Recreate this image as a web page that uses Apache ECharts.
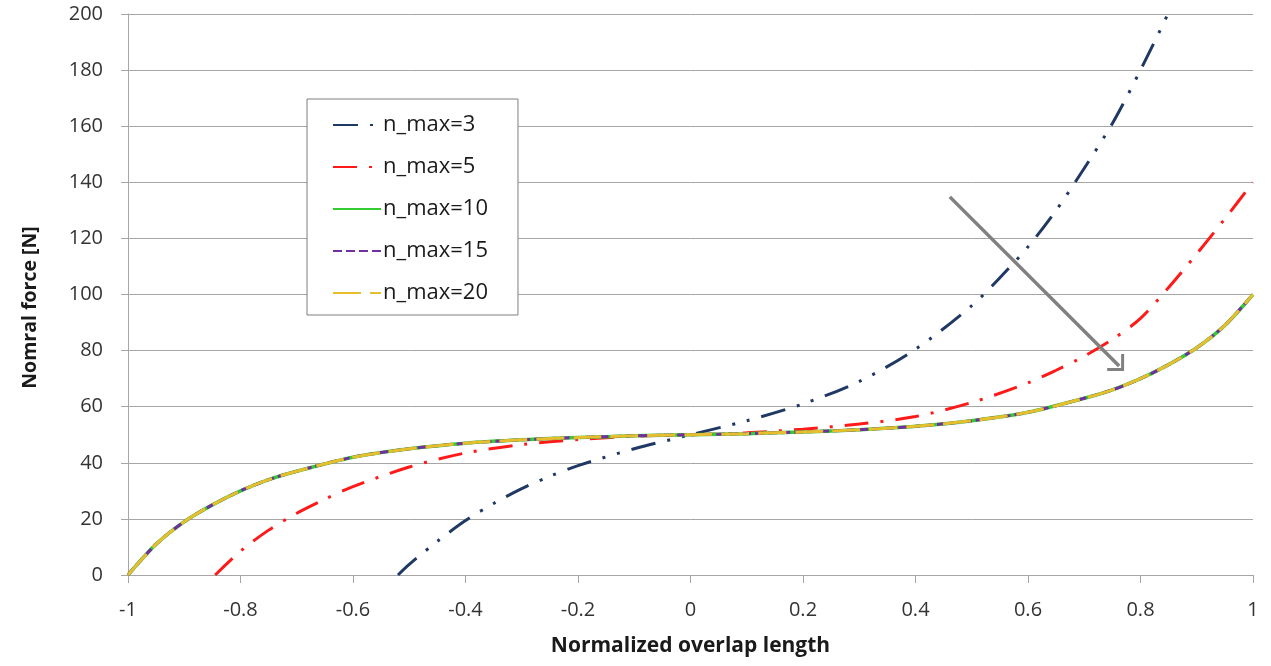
<!DOCTYPE html>
<html>
<head>
<meta charset="utf-8">
<script src="https://cdn.jsdelivr.net/npm/echarts@6/dist/echarts.min.js"></script>
<style>
html,body{margin:0;padding:0;background:#fff;}
#chart{width:1271px;height:666px;}
</style>
</head>
<body>
<div id="chart"></div>
<script>
// ---- data ----
const xTitle = 'Normalized overlap length';
const yTitle = 'Nomral force [N]';
const seriesNames = ['n_max=3', 'n_max=5', 'n_max=10', 'n_max=15', 'n_max=20'];

const x3 = [-0.52, -0.5, -0.45, -0.4, -0.35, -0.3, -0.25, -0.2, -0.1, 0, 0.1, 0.2, 0.3, 0.4, 0.5, 0.55, 0.6, 0.65, 0.7, 0.75, 0.8, 0.85, 0.87];
const y3 = [0, 3.8, 12, 19.4, 25.5, 30.8, 35.2, 39, 45, 50, 55, 61, 69, 80.5, 96, 106, 117, 130, 145, 161, 180, 200.5, 209];

const x5 = [-0.845, -0.8, -0.75, -0.7, -0.65, -0.6, -0.5, -0.4, -0.3, -0.2, -0.1, 0, 0.1, 0.2, 0.3, 0.4, 0.5, 0.6, 0.65, 0.7, 0.75, 0.8, 0.85, 0.9, 0.95, 1];
const y5 = [0, 8.5, 16, 22, 27, 31.5, 38.5, 43.5, 46.5, 48.3, 49.5, 50, 50.7, 52, 53.8, 56.5, 61.5, 68.5, 73, 78, 84, 91.5, 102.5, 114.5, 127, 140];

const xHi = [-1, -0.95, -0.9, -0.85, -0.8, -0.75, -0.7, -0.6, -0.5, -0.4, -0.3, -0.2, -0.1, 0, 0.1, 0.2, 0.3, 0.4, 0.5, 0.6, 0.7, 0.75, 0.8, 0.85, 0.9, 0.95, 1];
const y10 = [0, 11, 19, 25, 30, 34, 37, 42, 45, 47, 48.2, 49, 49.6, 50, 50.4, 51, 51.8, 53, 55, 58, 63, 66, 70, 75, 81, 89, 100];
const y15 = [0, 11, 19, 25, 30, 34, 37, 42, 45, 47, 48.2, 49, 49.6, 50, 50.4, 51, 51.8, 53, 55, 58, 63, 66, 70, 75, 81, 89, 100];
const y20 = [0, 11, 19, 25, 30, 34, 37, 42, 45, 47, 48.2, 49, 49.6, 50, 50.4, 51, 51.8, 53, 55, 58, 63, 66, 70, 75, 81, 89, 100];

// annotation arrow (data coordinates)
const arrowFrom = [0.461, 134.8];
const arrowTo = [0.762, 74.5];

function pairs(xs, ys) { return xs.map((x, i) => [x, ys[i]]); }

const FONT = 'Open Sans';
const chart = echarts.init(document.getElementById('chart'), null, {renderer: 'canvas'});

const chevron = 'path://M12,0 L24,12 L21.88,14.12 L12,4.24 L2.12,14.12 L0,12 Z';

chart.setOption({
  animation: false,
  backgroundColor: '#ffffff',
  grid: {left: 128, right: 18, top: 14, bottom: 91, containLabel: false},
  legend: {
    orient: 'vertical',
    left: 307,
    top: 99,
    padding: [15, 30, 11, 25],
    itemWidth: 48,
    itemHeight: 14,
    itemGap: 20,
    borderColor: '#7f7f7f',
    borderWidth: 1,
    backgroundColor: '#ffffff',
    itemStyle: {opacity: 0},
    textStyle: {fontFamily: FONT, fontSize: 22, color: '#1a1a1a', padding: [0, 0, 0, -3]},
    data: seriesNames
  },
  xAxis: {
    type: 'value',
    min: -1, max: 1, interval: 0.2,
    name: xTitle,
    nameLocation: 'middle',
    nameGap: 61,
    nameTextStyle: {fontFamily: FONT, fontSize: 21, fontWeight: 'bold', color: '#1a1a1a', verticalAlign: 'top'},
    axisLine: {show: true, onZero: false, lineStyle: {color: '#a6a6a6', width: 1}},
    axisTick: {show: true, length: 8, lineStyle: {color: '#a6a6a6'}},
    axisLabel: {fontFamily: FONT, fontSize: 20, color: '#333', margin: 25},
    splitLine: {show: false}
  },
  yAxis: {
    type: 'value',
    min: 0, max: 200, interval: 20,
    name: yTitle,
    nameLocation: 'middle',
    nameGap: 88,
    nameTextStyle: {fontFamily: FONT, fontSize: 19.5, fontWeight: 'bold', color: '#1a1a1a', padding: [0, 26, 0, 0]},
    axisLine: {show: true, onZero: false, lineStyle: {color: '#a6a6a6', width: 1}},
    axisTick: {show: true, length: 7, lineStyle: {color: '#a6a6a6'}},
    axisLabel: {fontFamily: FONT, fontSize: 20, color: '#333', margin: 25},
    splitLine: {show: true, lineStyle: {color: '#a6a6a6', width: 1}}
  },
  series: [
    {
      name: seriesNames[0], type: 'line', data: pairs(x3, y3), smooth: 0.3, symbol: 'none', clip: true,
      lineStyle: {color: '#1f3864', width: 3, type: [25, 12, 3, 12, 3, 12]},
      itemStyle: {color: '#1f3864'},
      markLine: {
        silent: true,
        symbol: ['none', chevron],
        symbolSize: [24, 14],
        label: {show: false},
        lineStyle: {color: '#808080', width: 3.5, type: 'solid'},
        data: [[{coord: arrowFrom}, {coord: arrowTo}]]
      }
    },
    {
      name: seriesNames[1], type: 'line', data: pairs(x5, y5), smooth: 0.3, symbol: 'none', clip: true,
      lineStyle: {color: '#ff1a1a', width: 3, type: [24, 12, 3, 12]},
      itemStyle: {color: '#ff1a1a'}
    },
    {
      name: seriesNames[2], type: 'line', data: pairs(xHi, y10), smooth: 0.3, symbol: 'none', clip: true,
      lineStyle: {color: '#33cc33', width: 3.5, type: 'solid'},
      itemStyle: {color: '#33cc33'}
    },
    {
      name: seriesNames[3], type: 'line', data: pairs(xHi, y15), smooth: 0.3, symbol: 'none', clip: true,
      lineStyle: {color: '#7030a0', width: 3, type: [9, 4]},
      itemStyle: {color: '#7030a0'}
    },
    {
      name: seriesNames[4], type: 'line', data: pairs(xHi, y20), smooth: 0.3, symbol: 'none', clip: true,
      lineStyle: {color: '#e6bf2e', width: 3, type: [28, 9]},
      itemStyle: {color: '#e6bf2e'}
    }
  ]
});
</script>
</body>
</html>
